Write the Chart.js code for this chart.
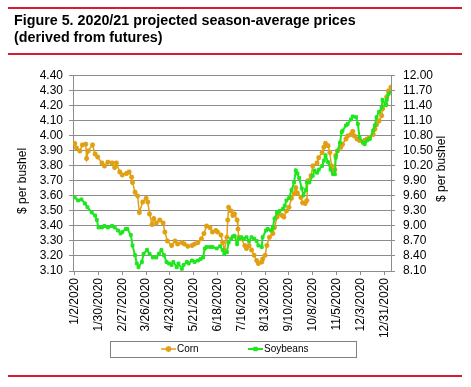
<!DOCTYPE html>
<html><head><meta charset="utf-8">
<script src="https://cdn.jsdelivr.net/npm/chart.js@4.4.1/dist/chart.umd.min.js"></script>
<style>html,body{margin:0;padding:0;background:#fff;}#wrap{width:471px;height:387px;position:relative}</style>
</head><body><div id="wrap"><canvas id="c" width="471" height="387"></canvas></div>
<script>
// ---------- data ----------
const titleLines = ['Figure 5. 2020/21 projected season-average prices', '(derived from futures)'];
const axisTitle = '$ per bushel';
const seriesNames = ['Corn', 'Soybeans'];

// x = days since 1/2/2020
const xTickDays = [0, 28, 56, 84, 112, 140, 168, 196, 224, 252, 280, 308, 336, 364];
const xTickLabels = ['1/2/2020', '1/30/2020', '2/27/2020', '3/26/2020', '4/23/2020', '5/21/2020', '6/18/2020',
  '7/16/2020', '8/13/2020', '9/10/2020', '10/8/2020', '11/5/2020', '12/3/2020', '12/31/2020'];
const leftTicks = [3.10, 3.20, 3.30, 3.40, 3.50, 3.60, 3.70, 3.80, 3.90, 4.00, 4.10, 4.20, 4.30, 4.40];
const rightTicks = [8.10, 8.40, 8.70, 9.00, 9.30, 9.60, 9.90, 10.20, 10.50, 10.80, 11.10, 11.40, 11.70, 12.00];

const cornDays = [0, 2, 6, 9, 13, 14, 16, 21, 24, 27,
  32, 35, 39, 44, 47, 49, 53, 56, 61, 64,
  67, 68, 71, 74, 76, 80, 84, 86, 88, 91,
  93, 96, 100, 104, 106, 109, 114, 118, 121, 126,
  129, 133, 138, 141, 145, 149, 152, 155, 159, 162,
  166, 168, 172, 174, 176, 179, 180, 181, 184, 186,
  188, 191, 192, 193, 196, 200, 202, 205, 208, 211,
  214, 216, 220, 221, 224, 226, 229, 233, 235, 238,
  240, 244, 246, 249, 252, 255, 258, 260, 262, 266,
  268, 271, 273, 274, 278, 280, 285, 287, 291, 293,
  295, 298, 300, 302, 304, 306, 307, 309, 313, 315,
  319, 321, 325, 327, 329, 332, 335, 339, 341, 344,
  347, 351, 353, 355, 358, 361, 362, 366, 367, 369,
  372];
const cornPrices = [3.95, 3.92, 3.90, 3.94, 3.945, 3.85, 3.90, 3.94, 3.88, 3.86,
  3.82, 3.80, 3.825, 3.82, 3.79, 3.82, 3.76, 3.74, 3.75, 3.76,
  3.725, 3.69, 3.625, 3.60, 3.49, 3.56, 3.585, 3.56, 3.48, 3.41,
  3.45, 3.42, 3.44, 3.42, 3.36, 3.30, 3.27, 3.30, 3.28, 3.29,
  3.28, 3.265, 3.27, 3.28, 3.29, 3.315, 3.35, 3.40, 3.39, 3.36,
  3.37, 3.36, 3.34, 3.29, 3.24, 3.325, 3.44, 3.525, 3.50, 3.47,
  3.48, 3.44, 3.38, 3.325, 3.315, 3.27, 3.25, 3.27, 3.24, 3.205,
  3.17, 3.15, 3.16, 3.18, 3.205, 3.27, 3.325, 3.35, 3.39, 3.46,
  3.48, 3.47, 3.46, 3.50, 3.525, 3.585, 3.615, 3.655, 3.62, 3.59,
  3.555, 3.55, 3.57, 3.70, 3.735, 3.80, 3.82, 3.855, 3.89, 3.925,
  3.95, 3.935, 3.89, 3.80, 3.755, 3.775, 3.87, 3.90, 3.925, 3.945,
  3.98, 4.00, 4.01, 4.03, 4.00, 3.98, 3.97, 3.96, 3.97, 3.98,
  3.99, 4.01, 4.045, 4.075, 4.10, 4.135, 4.18, 4.21, 4.26, 4.30,
  4.325];

const soyDays = [0, 4, 8, 12, 15, 20, 24, 26, 28, 32,
  35, 39, 44, 47, 51, 54, 56, 60, 62, 66,
  68, 71, 73, 75, 79, 81, 85, 88, 92, 96,
  99, 102, 105, 108, 111, 114, 116, 120, 122, 126,
  128, 132, 134, 138, 141, 145, 148, 151, 153, 155,
  159, 162, 167, 171, 174, 176, 179, 181, 184, 186,
  188, 191, 193, 196, 199, 202, 205, 208, 211, 214,
  216, 220, 221, 225, 227, 231, 233, 235, 238, 241,
  245, 247, 249, 252, 255, 258, 260, 262, 264, 267,
  269, 272, 273, 276, 280, 282, 285, 287, 291, 293,
  295, 298, 301, 304, 306, 307, 309, 312, 314, 315,
  319, 321, 325, 327, 331, 333, 335, 339, 341, 344,
  347, 351, 353, 355, 358, 361, 362, 366, 367, 369,
  372];
const soyPrices = [9.57, 9.51, 9.53, 9.45, 9.375, 9.27, 9.21, 9.12, 8.97, 8.97,
  9.00, 8.97, 9.00, 8.97, 8.91, 8.85, 8.88, 8.94, 8.94, 8.82,
  8.61, 8.415, 8.25, 8.175, 8.28, 8.445, 8.52, 8.445, 8.37, 8.37,
  8.445, 8.52, 8.415, 8.28, 8.25, 8.22, 8.28, 8.175, 8.25, 8.145,
  8.22, 8.28, 8.25, 8.31, 8.28, 8.31, 8.34, 8.37, 8.55, 8.58,
  8.58, 8.58, 8.55, 8.595, 8.52, 8.445, 8.475, 8.67, 8.745, 8.79,
  8.805, 8.64, 8.745, 8.775, 8.745, 8.775, 8.70, 8.775, 8.745, 8.70,
  8.61, 8.58, 8.775, 8.91, 8.94, 8.91, 8.97, 9.15, 9.27, 9.30,
  9.345, 9.405, 9.51, 9.555, 9.72, 9.87, 10.11, 10.05, 9.96, 9.75,
  9.615, 9.72, 9.87, 9.87, 10.005, 10.11, 10.065, 10.125, 10.20, 10.305,
  10.41, 10.275, 10.125, 10.035, 10.035, 10.365, 10.50, 10.665, 10.875, 10.905,
  11.01, 11.04, 11.13, 11.19, 11.175, 11.04, 10.77, 10.665, 10.635, 10.71,
  10.74, 10.905, 11.01, 11.175, 11.28, 11.37, 11.52, 11.415, 11.52, 11.64,
  11.67];

// ---------- styles ----------
const FONT = '"Liberation Sans", Arial, sans-serif';
const GRID = '#8c8c8c';
const RED = '#d91a32';
const CORN = '#e0a012';
const SOY = '#1ee61e';

const pts = (xs, ys) => xs.map((x, i) => ({ x: x, y: ys[i] }));

const decor = {
  id: 'decor',
  beforeDraw(chart) {
    const ctx = chart.ctx;
    ctx.save();
    ctx.fillStyle = '#fff';
    ctx.fillRect(0, 0, chart.width, chart.height);
    ctx.restore();
  },
  afterDraw(chart) {
    const ctx = chart.ctx, ca = chart.chartArea;
    ctx.save();
    // red rules
    ctx.strokeStyle = RED; ctx.lineWidth = 2;
    [8, 54, 376].forEach(y => { ctx.beginPath(); ctx.moveTo(8, y); ctx.lineTo(462, y); ctx.stroke(); });
    // axis titles (both read bottom-to-top)
    ctx.fillStyle = '#000';
    ctx.font = '12px ' + FONT;
    ctx.textAlign = 'center'; ctx.textBaseline = 'middle';
    [[ca.left - 50, ca.top + 105], [ca.right + 51, ca.top + 93]].forEach(([x, y]) => {
      ctx.save(); ctx.translate(x, y); ctx.rotate(-Math.PI / 2); ctx.fillText(axisTitle, 0, 0); ctx.restore();
    });
    // legend
    const cx = (ca.left + ca.right) / 2, ly = ca.bottom + 78;
    ctx.strokeStyle = '#808080'; ctx.lineWidth = 1;
    ctx.strokeRect(Math.round(cx - 122) + 0.5, Math.round(ly - 8) + 0.5, 246, 16);
    const items = [
      { x: cx - 71, ds: chart.data.datasets[0] },
      { x: cx + 16, ds: chart.data.datasets[1] }
    ];
    ctx.font = '10px ' + FONT; ctx.textAlign = 'left'; ctx.textBaseline = 'middle';
    items.forEach(it => {
      const ds = it.ds;
      ctx.strokeStyle = ds.borderColor; ctx.lineWidth = ds.borderWidth;
      ctx.beginPath(); ctx.moveTo(it.x, ly); ctx.lineTo(it.x + 15, ly); ctx.stroke();
      ctx.fillStyle = ds.pointBackgroundColor; ctx.strokeStyle = ds.pointBorderColor;
      ctx.lineWidth = ds.pointBorderWidth;
      Chart.helpers.drawPoint(ctx, { pointStyle: ds.pointStyle, radius: ds.pointRadius + 0.5, rotation: 0, borderWidth: ds.pointBorderWidth }, it.x + 7.5, ly);
      ctx.fillStyle = '#000';
      ctx.fillText(ds.label, it.x + 16, ly);
    });
    ctx.restore();
  }
};

new Chart(document.getElementById('c'), {
  type: 'line',
  data: {
    datasets: [
      {
        label: seriesNames[0], data: pts(cornDays, cornPrices), yAxisID: 'yL', order: 1,
        borderColor: CORN, borderWidth: 1.5, pointStyle: 'star', pointRadius: 2.5,
        pointBackgroundColor: CORN, pointBorderColor: CORN, pointBorderWidth: 1.6, tension: 0
      },
      {
        label: seriesNames[1], data: pts(soyDays, soyPrices), yAxisID: 'yR', order: 0,
        borderColor: SOY, borderWidth: 2, pointStyle: 'rect', pointRadius: 2,
        pointBackgroundColor: SOY, pointBorderColor: SOY, pointBorderWidth: 1, tension: 0
      }
    ]
  },
  options: {
    responsive: false, devicePixelRatio: 1, animation: false,
    layout: { padding: { left: 14, right: 14, top: 0, bottom: 46 } },
    plugins: {
      legend: { display: false },
      tooltip: { enabled: false },
      title: {
        display: true, text: titleLines, align: 'start', color: '#000',
        font: { family: FONT, size: 14.3, weight: 'bold', lineHeight: 1.22 },
        padding: { top: 12, bottom: 29 }
      }
    },
    scales: {
      x: {
        type: 'linear', position: 'bottom', min: -2, max: 372,
        afterBuildTicks: s => { s.ticks = xTickDays.map(v => ({ value: v })); },
        afterFit: s => { s.height = 70; },
        ticks: {
          autoSkip: false, maxRotation: 90, minRotation: 90, padding: 3, color: '#000',
          font: { family: FONT, size: 12 },
          callback: v => { const i = xTickDays.indexOf(v); return i >= 0 ? xTickLabels[i] : ''; }
        },
        grid: { drawOnChartArea: false, drawTicks: true, tickLength: 4, color: GRID },
        border: { color: GRID, width: 1 }
      },
      yL: {
        type: 'linear', position: 'left', min: 3.10, max: 4.40,
        afterBuildTicks: s => { s.ticks = leftTicks.map(v => ({ value: v })); },
        afterFit: s => { s.width = 59; },
        ticks: { autoSkip: false, padding: 6, color: '#000', font: { family: FONT, size: 12 }, callback: v => Number(v).toFixed(2) },
        grid: { color: GRID, tickLength: 4, drawTicks: true },
        border: { color: GRID, width: 1 }
      },
      yR: {
        type: 'linear', position: 'right', min: 8.10, max: 12.00,
        afterBuildTicks: s => { s.ticks = rightTicks.map(v => ({ value: v })); },
        afterFit: s => { s.width = 66; },
        ticks: { autoSkip: false, padding: 8, color: '#000', font: { family: FONT, size: 12 }, callback: v => Number(v).toFixed(2) },
        grid: { drawOnChartArea: false, color: GRID, tickLength: 4, drawTicks: true },
        border: { color: GRID, width: 1 }
      }
    }
  },
  plugins: [decor]
});
</script>
</body></html>
